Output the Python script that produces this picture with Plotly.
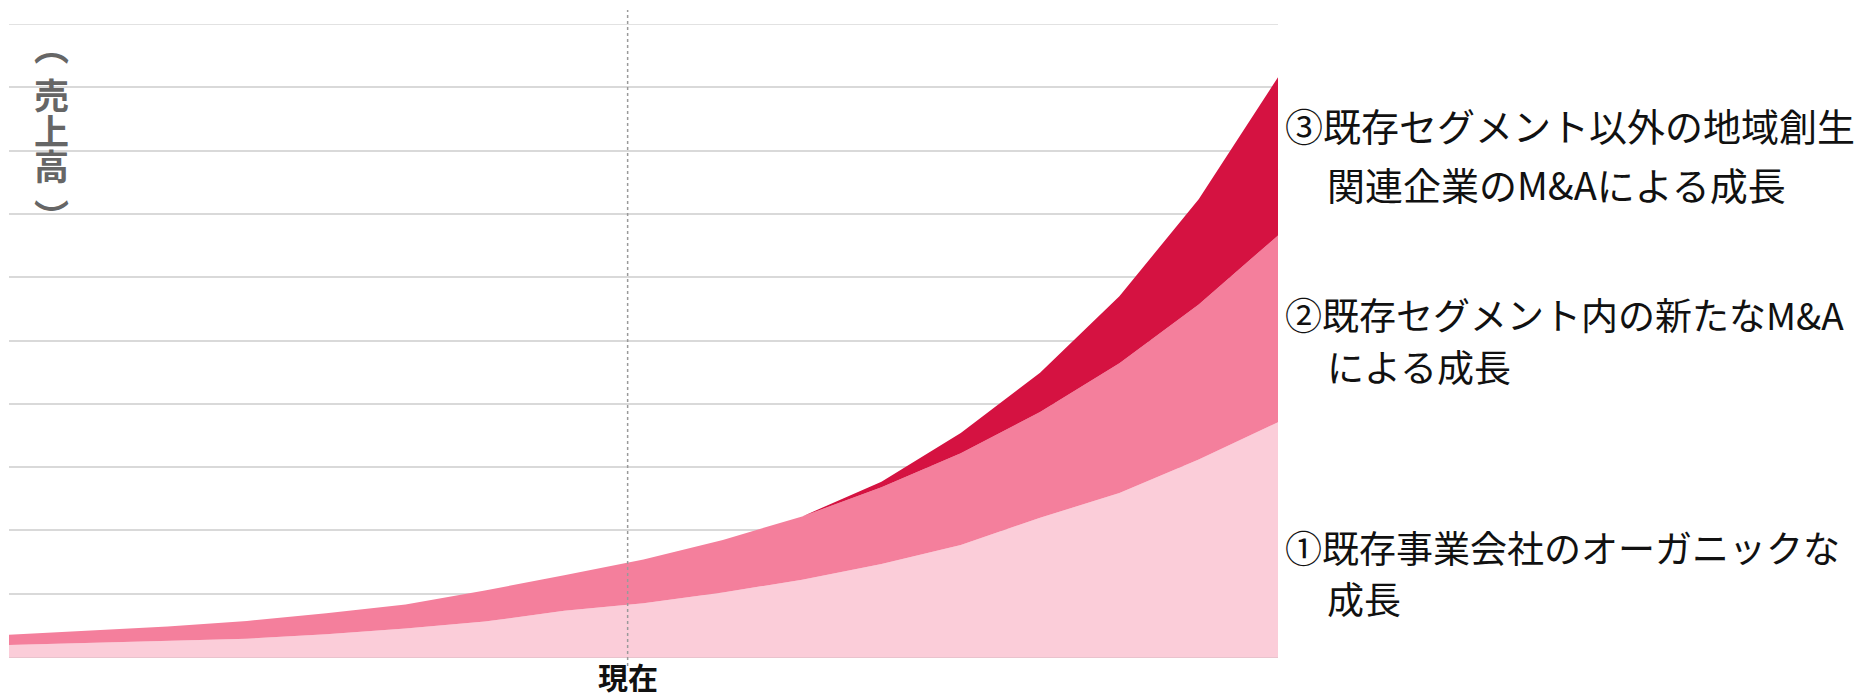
import plotly.graph_objects as go

# Time steps along the horizontal axis (no labelled ticks, "現在" marks the present)
periods = list(range(17))
present_position = 7.8

# Stacked revenue contributions per period
organic_growth = [0.19, 0.22, 0.25, 0.29, 0.36, 0.45, 0.56, 0.73, 0.85,
                  1.02, 1.22, 1.47, 1.77, 2.20, 2.59, 3.12, 3.71]
ma_within_segment = [0.16, 0.19, 0.23, 0.28, 0.33, 0.38, 0.49, 0.56, 0.69,
                     0.83, 1.00, 1.21, 1.45, 1.67, 2.05, 2.45, 2.95]
ma_outside_segment = [0, 0, 0, 0, 0, 0, 0, 0, 0,
                      0, 0, 0.09, 0.32, 0.62, 1.06, 1.66, 2.50]

series_names = [
    "①既存事業会社のオーガニックな成長",
    "②既存セグメント内の新たなM&Aによる成長",
    "③既存セグメント以外の地域創生関連企業のM&Aによる成長",
]
series_values = [organic_growth, ma_within_segment, ma_outside_segment]
series_colors = ["#FBCDD9", "#F47F9C", "#D51241"]

y_axis_chars = ["︵", "売", "上", "高", "︶"]
present_label = "現在"

# Right-hand labels, one entry per text line
label_lines = [
    ("③既存セグメント以外の地域創生", 38),
    ("関連企業のM&Aによる成長", 38),
    ("②既存セグメント内の新たなM&A", 37),
    ("による成長", 37),
    ("①既存事業会社のオーガニックな", 37),
    ("成長", 37),
]

W, H = 1866, 698
L, R, T, B = 9, 588, 24, 41
plot_h = H - T - B
plot_w = W - L - R


def py(px):
    """Convert a pixel row (from the top of the page) to paper y."""
    return (H - B - px) / plot_h


def px_x(px):
    """Convert a pixel column to paper x."""
    return (px - L) / plot_w


fig = go.Figure()
for name, vals, color in zip(series_names, series_values, series_colors):
    fig.add_trace(go.Scatter(
        x=periods, y=vals, name=name, mode="lines",
        stackgroup="revenue", line=dict(width=0, color=color),
        fillcolor=color, hoverinfo="skip", showlegend=False,
    ))

# Top grid line sits on the upper edge of the plotting area
fig.add_shape(type="line", xref="paper", yref="y", x0=0, x1=1, y0=10, y1=10,
              line=dict(color="#D9D9D9", width=1.5), layer="below")

# "Present" dotted marker line
fig.add_shape(type="line", xref="x", yref="paper",
              x0=present_position, x1=present_position, y0=py(666), y1=py(10),
              line=dict(color="#9A9A9A", width=1.5, dash="dot"))

annotations = [dict(
    text=f"<b>{present_label}</b>", xref="x", yref="paper",
    x=present_position, y=py(676), xanchor="center", yanchor="middle",
    showarrow=False, font=dict(size=30, color="#111111",
                               family="Noto Sans CJK JP"),
)]

# Vertical axis title, stacked one character per row
char_rows = [45, 93, 129, 165, 214]
for ch, row in zip(y_axis_chars, char_rows):
    annotations.append(dict(
        text=f"<b>{ch}</b>", xref="paper", yref="paper",
        x=px_x(51), y=py(row), xanchor="center", yanchor="middle",
        showarrow=False, font=dict(size=35, color="#666666",
                                   family="Noto Sans CJK JP"),
    ))

# Series labels to the right of the plot
line_rows = [125, 183, 314, 366, 547, 598]
line_starts = [1283, 1325, 1283, 1325, 1283, 1325]
for (txt, size), row, start in zip(label_lines, line_rows, line_starts):
    annotations.append(dict(
        text=txt, xref="paper", yref="paper",
        x=px_x(start), y=py(row), xanchor="left", yanchor="middle",
        showarrow=False, font=dict(size=size, color="#111111",
                                   family="Noto Sans CJK JP"),
    ))

fig.update_layout(
    width=W, height=H, autosize=False,
    margin=dict(l=L, r=R, t=T, b=B, pad=0),
    paper_bgcolor="white", plot_bgcolor="white",
    annotations=annotations,
    xaxis=dict(range=[0, 16], showgrid=False, zeroline=False,
               showticklabels=False, ticks="", showline=True,
               linecolor="#E9C3CD", linewidth=1),
    yaxis=dict(range=[0, 10], dtick=1, showgrid=True, gridcolor="#D9D9D9",
               gridwidth=1.5, zeroline=False, showticklabels=False, ticks=""),
)

fig.write_html("out.html")
